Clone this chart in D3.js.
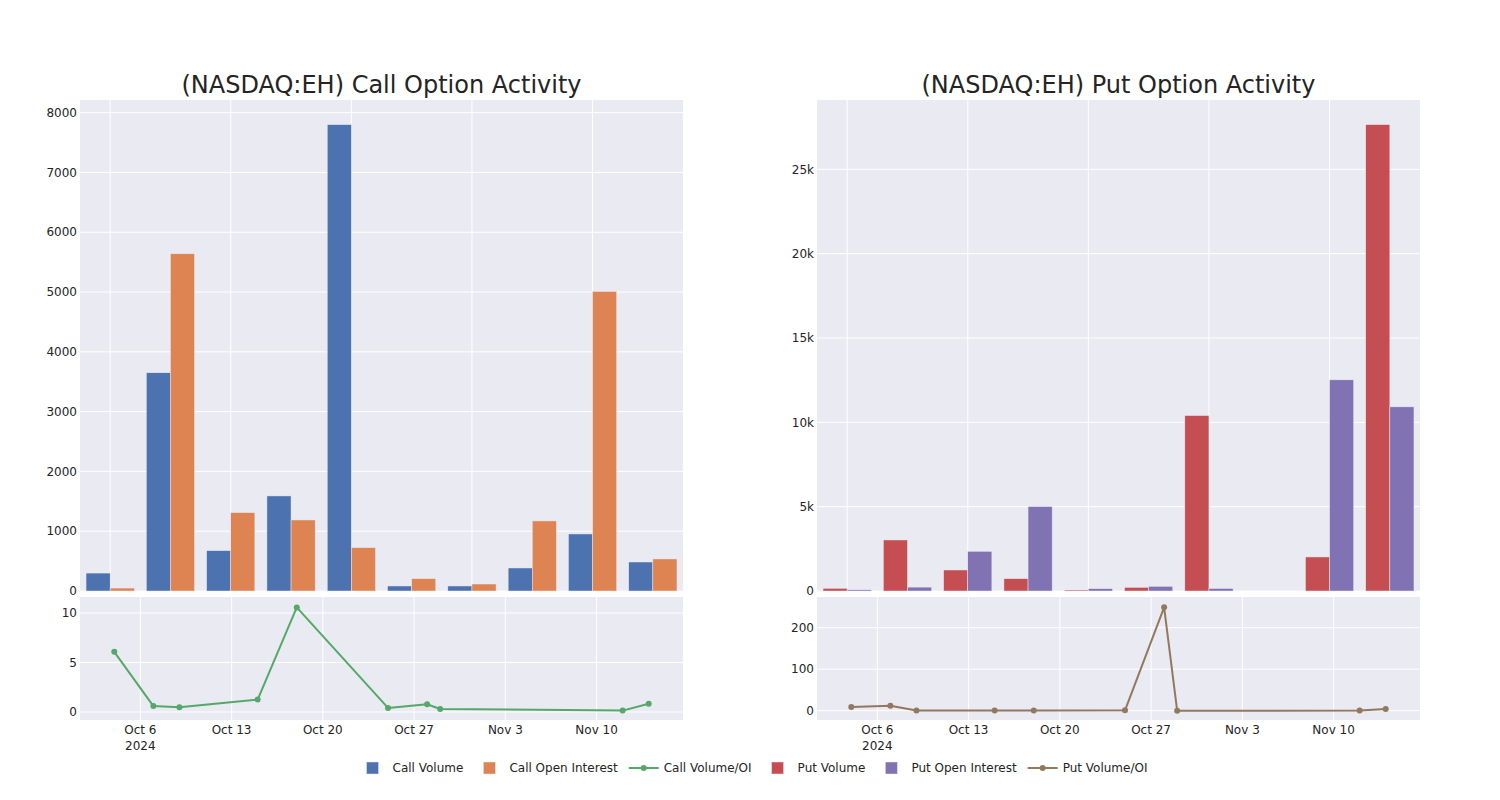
<!DOCTYPE html>
<html>
<head>
<meta charset="utf-8">
<script src="https://cdn.jsdelivr.net/npm/d3@7"></script>
<style>
  html, body { margin: 0; padding: 0; background: #fff; }
  svg { display: block; font-family: "DejaVu Sans", sans-serif; }
</style>
</head>
<body>
<svg id="chart" width="1500" height="800"></svg>
<script>
// ---------- data ----------
const dates = ["2024-10-04","2024-10-07","2024-10-09","2024-10-15","2024-10-18",
               "2024-10-25","2024-10-28","2024-10-29","2024-11-12","2024-11-14"];
const callVolume = [300, 3650, 675, 1590, 7800, 84, 84, 385, 954, 485];
const callOpenInterest = [49, 5640, 1311, 1188, 725, 206, 117, 1172, 5010, 536];
const callRatio = [6.08, 0.6, 0.47, 1.25, 10.57, 0.41, 0.78, 0.3, 0.14, 0.84];
const putVolume = [158, 3026, 1246, 732, 59, 217, 10403, 0, 2018, 27650];
const putOpenInterest = [70, 230, 2354, 5004, 138, 277, 150, 0, 12520, 10918];
const putRatio = [8.9, 12.1, 0.5, 0.15, 0.43, 0.78, 249, 0, 0.16, 4];

const callTicks = [0, 1000, 2000, 3000, 4000, 5000, 6000, 7000, 8000];
const putTicks = [0, 5000, 10000, 15000, 20000, 25000];
const putTickLabels = ["0", "5k", "10k", "15k", "20k", "25k"];
const callRatioTicks = [0, 5, 10];
const putRatioTicks = [0, 100, 200];
const dateTicks = ["2024-10-06","2024-10-13","2024-10-20","2024-10-27","2024-11-03","2024-11-10"];
const dateTickLabels = ["Oct 6", "Oct 13", "Oct 20", "Oct 27", "Nov 3", "Nov 10"];

const titles = ["(NASDAQ:EH) Call Option Activity", "(NASDAQ:EH) Put Option Activity"];
const legendItems = [
  {name: "Call Volume", type: "bar", color: "rgb(76,114,176)"},
  {name: "Call Open Interest", type: "bar", color: "rgb(221,132,82)"},
  {name: "Call Volume/OI", type: "line", color: "rgb(85,168,104)"},
  {name: "Put Volume", type: "bar", color: "rgb(196,78,82)"},
  {name: "Put Open Interest", type: "bar", color: "rgb(129,114,179)"},
  {name: "Put Volume/OI", type: "line", color: "rgb(147,120,96)"}
];

// ---------- style ----------
const BG = "rgb(234,234,242)";
const TXT = "rgb(36,36,36)";
const parse = d3.utcParse("%Y-%m-%d");
const DAY = 86400000;

const svg = d3.select("#chart");

function panel(cfg) {
  const {x0, x1, topY0, topY1, botY0, botY1, vol, oi, ratio, colVol, colOi, colLine,
         yMax, ticks, tickFmt, rDomain, rTicks, title} = cfg;
  const g = svg.append("g");

  // title
  g.append("text").attr("x", (x0 + x1) / 2).attr("y", 93)
    .attr("text-anchor", "middle").attr("font-size", 24).attr("fill", TXT).text(title);

  // ---- top bars ----
  g.append("rect").attr("x", x0).attr("y", topY0).attr("width", x1 - x0).attr("height", topY1 - topY0).attr("fill", BG);
  const xb = d3.scaleBand().domain(d3.range(dates.length)).range([x0, x1]).paddingInner(0.2).paddingOuter(0.1);
  const xs = d3.scaleBand().domain(["vol", "oi"]).range([0, xb.bandwidth()]);
  const y = d3.scaleLinear().domain([0, yMax]).range([topY1, topY0]);

  // grid
  g.append("g").selectAll("line").data(ticks).join("line")
    .attr("x1", x0).attr("x2", x1).attr("y1", d => y(d)).attr("y2", d => y(d))
    .attr("stroke", "#fff").attr("stroke-width", 1);
  g.append("g").selectAll("line").data(d3.range(0, dates.length, 2)).join("line")
    .attr("x1", d => xb(d) + xb.bandwidth() / 2).attr("x2", d => xb(d) + xb.bandwidth() / 2)
    .attr("y1", topY0).attr("y2", topY1).attr("stroke", "#fff").attr("stroke-width", 1);

  const series = [["vol", vol, colVol], ["oi", oi, colOi]];
  series.forEach(([key, vals, col]) => {
    g.append("g").selectAll("rect").data(vals).join("rect")
      .attr("x", (d, i) => xb(i) + xs(key))
      .attr("width", xs.bandwidth())
      .attr("y", d => y(d))
      .attr("height", d => y(0) - y(d))
      .attr("fill", col)
      .attr("stroke", BG).attr("stroke-width", 0.5);
  });

  // y tick labels
  g.append("g").selectAll("text").data(ticks).join("text")
    .attr("x", x0 - 3).attr("y", d => y(d)).attr("dy", "0.35em")
    .attr("text-anchor", "end").attr("font-size", 12).attr("fill", TXT)
    .text((d, i) => tickFmt(d, i));

  // ---- bottom ratio line ----
  g.append("rect").attr("x", x0).attr("y", botY0).attr("width", x1 - x0).attr("height", botY1 - botY0).attr("fill", BG);
  const dts = dates.map(parse);
  const pad = 2.63 * DAY;
  const xt = d3.scaleUtc().domain([new Date(+dts[0] - pad), new Date(+dts[dts.length - 1] + pad)]).range([x0, x1]);
  const yr = d3.scaleLinear().domain(rDomain).range([botY1, botY0]);

  g.append("g").selectAll("line").data(rTicks).join("line")
    .attr("x1", x0).attr("x2", x1).attr("y1", d => yr(d)).attr("y2", d => yr(d))
    .attr("stroke", "#fff").attr("stroke-width", 1);
  g.append("g").selectAll("line").data(dateTicks.map(parse)).join("line")
    .attr("x1", d => xt(d)).attr("x2", d => xt(d)).attr("y1", botY0).attr("y2", botY1)
    .attr("stroke", "#fff").attr("stroke-width", 1);

  const line = d3.line().x((d, i) => xt(dts[i])).y(d => yr(d));
  g.append("path").datum(ratio).attr("d", line).attr("fill", "none")
    .attr("stroke", colLine).attr("stroke-width", 2).attr("stroke-linejoin", "round");
  g.append("g").selectAll("circle").data(ratio).join("circle")
    .attr("cx", (d, i) => xt(dts[i])).attr("cy", d => yr(d)).attr("r", 3).attr("fill", colLine);

  g.append("g").selectAll("text").data(rTicks).join("text")
    .attr("x", x0 - 3).attr("y", d => yr(d)).attr("dy", "0.35em")
    .attr("text-anchor", "end").attr("font-size", 12).attr("fill", TXT).text(d => d);

  g.append("g").selectAll("text").data(dateTicks).join("text")
    .attr("x", d => xt(parse(d))).attr("y", botY1 + 13.5)
    .attr("text-anchor", "middle").attr("font-size", 12).attr("fill", TXT)
    .text((d, i) => dateTickLabels[i]);
  g.append("text").attr("x", xt(parse(dateTicks[0]))).attr("y", botY1 + 29.5)
    .attr("text-anchor", "middle").attr("font-size", 12).attr("fill", TXT).text("2024");
}

panel({
  x0: 80, x1: 683, topY0: 100, topY1: 591, botY0: 597, botY1: 720,
  vol: callVolume, oi: callOpenInterest, ratio: callRatio,
  colVol: legendItems[0].color, colOi: legendItems[1].color, colLine: legendItems[2].color,
  yMax: 8212, ticks: callTicks, tickFmt: d => d,
  rDomain: [-0.81, 11.62], rTicks: callRatioTicks, title: titles[0]
});
panel({
  x0: 817, x1: 1420, topY0: 100, topY1: 591, botY0: 597, botY1: 720,
  vol: putVolume, oi: putOpenInterest, ratio: putRatio,
  colVol: legendItems[3].color, colOi: legendItems[4].color, colLine: legendItems[5].color,
  yMax: 29111, ticks: putTicks, tickFmt: (d, i) => putTickLabels[i],
  rDomain: [-22.5, 274], rTicks: putRatioTicks, title: titles[1]
});

// ---------- legend ----------
const lg = svg.append("g");
let cx = 0;
const ly = 768;
legendItems.forEach(it => {
  const ig = lg.append("g").attr("transform", `translate(${cx},0)`);
  if (it.type === "bar") {
    ig.append("rect").attr("x", 14).attr("y", ly - 6).attr("width", 12).attr("height", 12)
      .attr("fill", it.color).attr("stroke", BG).attr("stroke-width", 0.5);
  } else {
    ig.append("line").attr("x1", 5).attr("x2", 35).attr("y1", ly).attr("y2", ly)
      .attr("stroke", it.color).attr("stroke-width", 2);
    ig.append("circle").attr("cx", 20).attr("cy", ly).attr("r", 3).attr("fill", it.color);
  }
  const t = ig.append("text").attr("x", 40).attr("y", ly).attr("dy", "0.35em")
    .attr("font-size", 12).attr("fill", TXT).text(it.name);
  cx += 40 + t.node().getComputedTextLength() + 6;
});
const lw = cx - 6;
lg.attr("transform", `translate(${750 - lw / 2},0)`);
</script>
</body>
</html>
